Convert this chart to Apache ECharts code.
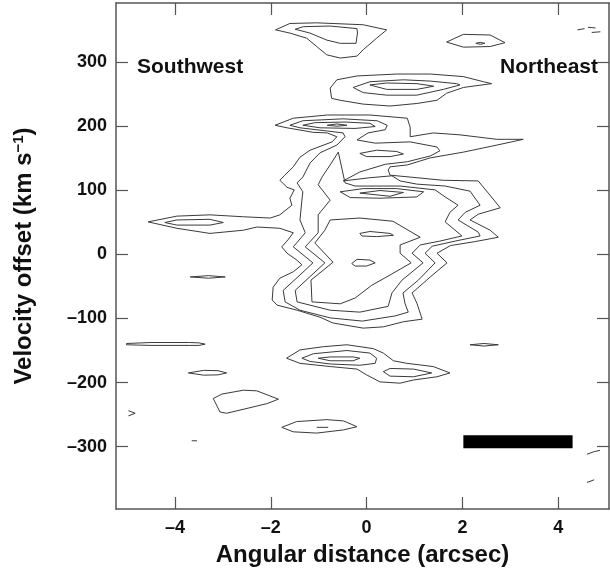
<!DOCTYPE html>
<html><head><meta charset="utf-8">
<script src="https://cdn.jsdelivr.net/npm/echarts@6/dist/echarts.min.js"></script>
<style>html,body{margin:0;padding:0;background:#fff}#c{width:610px;height:582px}</style>
</head><body><div id="c"></div>
<script>
// axis ticks / range
const xTicks = [-4, -2, 0, 2, 4];
const yTicks = [-300, -200, -100, 0, 100, 200, 300];
const xRange = [-5.23, 5.06];
const yRange = [-397.6, 393];

// contour polylines [arcsec, km/s]
const topLeftOuter = [[-1.90,351],[-1.60,361],[-1.04,362],[-0.07,359],[0.42,351],[0.21,338],[-0.07,320],[-0.20,310],[-0.55,307],[-0.83,312],[-1.04,325],[-1.25,338],[-1.60,346]];
const topLeftInner = [[-1.49,352],[-1.32,356],[-0.76,357],[-0.20,353],[-0.19,346],[-0.22,330],[-0.55,330],[-0.83,335],[-1.18,346]];
const topRightBlob = [[1.67,332],[2.02,344],[2.58,343],[2.89,331],[2.58,325],[2.02,324]];
const topRightDot = [[2.28,330],[2.37,331.5],[2.47,330],[2.37,328.5]];
const band260Outer = [[-0.76,260],[-0.62,273],[-0.20,279],[0.63,282],[1.33,282],[2.02,278],[2.44,270],[2.61,267],[2.02,261],[1.67,252],[1.47,241],[1.05,236],[0.49,232],[-0.07,235],[-0.55,241],[-0.73,244]];
const band260Mid = [[-0.28,261],[0.07,270],[0.77,273],[1.33,271],[1.88,267],[1.95,265],[1.60,258],[1.05,249],[0.42,249],[-0.07,253]];
const band260Inner = [[0.07,265],[0.42,268],[1.05,267],[1.40,263],[1.05,258],[0.42,258]];
const mainL1 = [[-4.56,51],[-3.96,60],[-3.27,62],[-2.57,59],[-2.01,57],[-1.81,62],[-1.56,77],[-1.60,88],[-1.51,101],[-1.66,105],[-1.81,116],[-1.72,123],[-1.53,137],[-1.39,152],[-1.18,163],[-0.72,176],[-0.62,184],[-0.82,190],[-1.12,191],[-1.66,198],[-1.91,202],[-1.53,213],[-0.82,218],[0.07,218],[0.85,213],[0.91,199],[0.91,184],[1.39,190],[1.95,187],[2.72,180],[3.27,180],[2.72,171],[2.02,160],[1.33,151],[0.85,140],[0.49,137],[0.45,132],[0.49,124],[1.05,120],[1.60,116],[2.33,115],[2.54,96],[2.79,73],[2.33,63],[2.16,54],[2.58,38],[2.75,27],[2.25,20],[1.75,14],[1.47,2],[1.68,-13],[1.33,-35],[0.95,-60],[1.05,-76],[1.16,-101],[0.77,-105],[0.35,-113],[-0.07,-115],[-0.70,-107],[-0.97,-98],[-1.45,-87],[-1.87,-79],[-1.97,-71],[-1.95,-51],[-1.81,-37],[-1.53,-27],[-1.35,-16],[-1.45,-9],[-1.66,2],[-1.77,12],[-1.64,23],[-1.53,34],[-1.81,41],[-2.29,43],[-2.57,38],[-3.27,33],[-3.96,41]];
const mainL2 = [[-1.60,202],[-1.33,209],[-0.49,212],[0.22,209],[0.43,202],[0.39,195],[0.03,190],[-0.20,179],[0.18,174],[0.91,176],[1.47,168],[1.53,162],[1.33,154],[0.85,145],[0.39,141],[-0.14,129],[-0.49,115],[0.07,120],[0.53,123],[0.70,115],[1.05,110],[1.64,107],[2.16,99],[2.37,77],[2.06,66],[1.91,54],[2.33,35],[2.37,29],[1.85,21],[1.37,13],[1.22,2],[1.43,-13],[1.08,-40],[0.76,-60],[0.80,-76],[0.87,-90],[0.59,-96],[-0.09,-104],[-0.76,-99],[-1.39,-87],[-1.70,-74],[-1.74,-56],[-1.39,-32],[-1.12,-13],[-1.53,12],[-1.28,34],[-1.39,54],[-1.35,85],[-1.33,98],[-1.45,112],[-1.33,121],[-1.18,143],[-0.97,159],[-0.62,171],[-0.45,184],[-0.49,190],[-0.82,193],[-1.39,198]];
const mainL3 = [[-0.59,160],[-0.76,140],[-0.93,121],[-1.01,109],[-0.76,85],[-1.01,62],[-1.01,34],[-1.28,12],[-0.87,-13],[-1.49,-56],[-1.45,-74],[-0.76,-87],[-0.14,-90],[0.45,-81],[0.53,-60],[0.74,-40],[1.18,-13],[0.95,2],[1.12,15],[1.53,21],[1.99,29],[1.64,51],[1.74,66],[1.91,77],[1.64,90],[1.43,101],[0.70,107],[-0.24,107],[-0.45,112]];
const mainL4 = [[-0.76,54],[-0.14,57],[0.55,52],[0.80,41],[1.12,27],[0.70,15],[0.70,2],[0.93,-13],[0.49,-32],[0.11,-48],[-0.24,-68],[-0.55,-77],[-1.14,-74],[-1.16,-40],[-0.70,-12],[-1.08,18],[-0.87,38]];
const topBandL3 = [[-1.33,202],[-1.08,206],[-0.45,207],[0.07,205],[0.18,200],[-0.24,197],[-0.97,198]];
const topBandCore = [[-0.82,202],[-0.62,204],[-0.41,202],[-0.62,200.5]];
const isl150 = [[-0.14,158],[0.21,163],[0.63,161],[0.77,157],[0.49,153],[0.00,153]];
const isl95Outer = [[-0.55,98],[-0.07,103],[0.63,103],[1.19,98],[1.05,90],[0.28,88],[-0.34,89]];
const isl95Inner = [[-0.14,96],[0.28,100],[0.77,97],[0.49,91]];
const isl30 = [[-0.14,33],[0.07,36],[0.49,33],[0.56,30],[0.21,28],[-0.10,29]];
const islM15 = [[-0.31,-14],[-0.20,-7.5],[0.07,-8.6],[0.18,-13],[0.00,-18],[-0.24,-18]];
const tongueInner = [[-4.21,50],[-3.96,54],[-3.27,55],[-2.99,50],[-3.27,46],[-3.96,46]];
const dashM35 = [[-3.68,-35],[-3.3,-33],[-2.95,-35],[-3.3,-37]];
const thinM140 = [[-5.01,-139],[-4.5,-137.5],[-3.7,-137.5],[-3.5,-138],[-3.37,-140],[-3.5,-142],[-3.7,-142],[-4.5,-142],[-5.01,-141]];
const ellM185 = [[-3.72,-185],[-3.4,-181],[-3.1,-181.5],[-2.92,-185],[-3.1,-188],[-3.4,-188.5]];
const blobM230 = [[-3.20,-225],[-3.02,-218],[-2.57,-212],[-2.29,-213],[-1.84,-226],[-2.08,-233],[-2.92,-248],[-3.06,-246]];
const markM245 = [[-4.97,-244],[-4.83,-248],[-4.97,-252]];
const dashM290 = [[-3.65,-291],[-3.54,-291]];
const ellM270 = [[-1.77,-270],[-1.46,-261],[-0.83,-258],[-0.48,-260],[-0.20,-269],[-0.48,-274],[-1.04,-279],[-1.53,-277]];
const ellM270Core = [[-1.04,-270],[-0.80,-270]];
const grpM170Outer = [[-1.67,-162],[-1.39,-149],[-0.90,-144],[-0.41,-141],[0.14,-147],[0.35,-154],[0.56,-166],[0.84,-170],[1.39,-175],[1.74,-185],[1.47,-191],[0.98,-196],[0.70,-201],[0.28,-199],[0.00,-188],[-0.20,-179],[-0.76,-175],[-1.39,-170]];
const grpM170Mid = [[-1.35,-162],[-1.11,-155],[-0.41,-150],[0.07,-154],[0.21,-162],[0.18,-170],[-0.14,-173],[-0.76,-171],[-1.18,-167]];
const grpM170Core = [[-1.01,-162],[-0.76,-160],[-0.28,-160],[-0.14,-162],[-0.28,-166],[-0.76,-166]];
const grpM185Right = [[0.35,-183],[0.49,-178],[0.98,-179],[1.36,-185],[0.98,-191],[0.49,-190]];
const dashM140 = [[2.16,-141],[2.45,-139],[2.75,-141],[2.45,-143]];
const edgeTop = [[4.40,351],[4.55,353]];
const edgeTop2 = [[4.62,355],[4.78,354]];
const edgeTop3 = [[4.70,347],[4.88,348]];
const edgeLow1 = [[4.60,-312],[4.75,-308],[4.87,-306]];
const edgeLow2 = [[4.60,-356],[4.75,-352]];
const scaleBar = [[2.02,-292.5],[4.30,-292.5]];

const closedShapes = [topLeftOuter, topLeftInner, topRightBlob, topRightDot, band260Outer, band260Mid, band260Inner,
  mainL1, mainL2, mainL3, mainL4, topBandL3, topBandCore, isl150, isl95Outer, isl95Inner, isl30, islM15, tongueInner,
  dashM35, thinM140, ellM185, blobM230, ellM270, grpM170Outer, grpM170Mid, grpM170Core, grpM185Right, dashM140];
const openShapes = [markM245, dashM290, ellM270Core, edgeTop, edgeTop2, edgeTop3, edgeLow1, edgeLow2];

const lineColor = '#3a3a3a';
const series = [];
closedShapes.forEach(p => series.push({type:'line', data:p.concat([p[0]]), showSymbol:false, symbol:'none', silent:true, lineStyle:{color:lineColor, width:1}}));
openShapes.forEach(p => series.push({type:'line', data:p, showSymbol:false, symbol:'none', silent:true, lineStyle:{color:lineColor, width:1}}));
series.push({type:'line', data:scaleBar, showSymbol:false, symbol:'none', silent:true, lineStyle:{color:'#000', width:13, cap:'butt'}});

const dash = v => String(v).replace('-', '\u2013');
const axisLine = {show:true, onZero:false, lineStyle:{color:'#555', width:1.5}};
const tickStyle = {show:true, inside:true, length:12, lineStyle:{color:'#555', width:1.2}};
const chart = echarts.init(document.getElementById('c'));
chart.setOption({
  animation:false,
  backgroundColor:'#fff',
  grid:{left:116, right:1, top:3, bottom:73},
  xAxis:[
    {type:'value', min:xRange[0], max:xRange[1], position:'bottom', axisLine,
     axisTick:Object.assign({customValues:xTicks}, tickStyle),
     axisLabel:{customValues:xTicks, formatter:dash, fontSize:18, fontWeight:'bold', color:'#111', fontFamily:'Liberation Sans', margin:10},
     splitLine:{show:false},
     name:'Angular distance (arcsec)', nameLocation:'middle', nameGap:34,
     nameTextStyle:{fontSize:24, fontWeight:'bold', color:'#111', fontFamily:'Liberation Sans'}},
    {type:'value', min:xRange[0], max:xRange[1], position:'top', axisLine,
     axisTick:Object.assign({customValues:xTicks}, tickStyle), axisLabel:{show:false}, splitLine:{show:false}}
  ],
  yAxis:[
    {type:'value', min:yRange[0], max:yRange[1], position:'left', axisLine,
     axisTick:Object.assign({customValues:yTicks}, tickStyle),
     axisLabel:{customValues:yTicks, formatter:dash, fontSize:18, fontWeight:'bold', color:'#111', fontFamily:'Liberation Sans', margin:9},
     splitLine:{show:false},
     name:'Velocity offset (km s{sup|\u22121})', nameLocation:'middle', nameGap:78,
     nameTextStyle:{fontSize:24, fontWeight:'bold', color:'#111', fontFamily:'Liberation Sans',
       rich:{sup:{fontSize:15, fontWeight:'bold', fontFamily:'Liberation Sans', color:'#111', padding:[0,0,12,0]}}}},
    {type:'value', min:yRange[0], max:yRange[1], position:'right', axisLine,
     axisTick:Object.assign({customValues:yTicks}, tickStyle), axisLabel:{show:false}, splitLine:{show:false}}
  ],
  graphic:[
    {type:'text', left:137, top:57, style:{text:'Southwest', fontSize:21, fontWeight:'bold', fontFamily:'Liberation Sans', fill:'#111'}},
    {type:'text', right:12, top:57, style:{text:'Northeast', fontSize:21, fontWeight:'bold', fontFamily:'Liberation Sans', fill:'#111'}}
  ],
  series
});
</script></body></html>
